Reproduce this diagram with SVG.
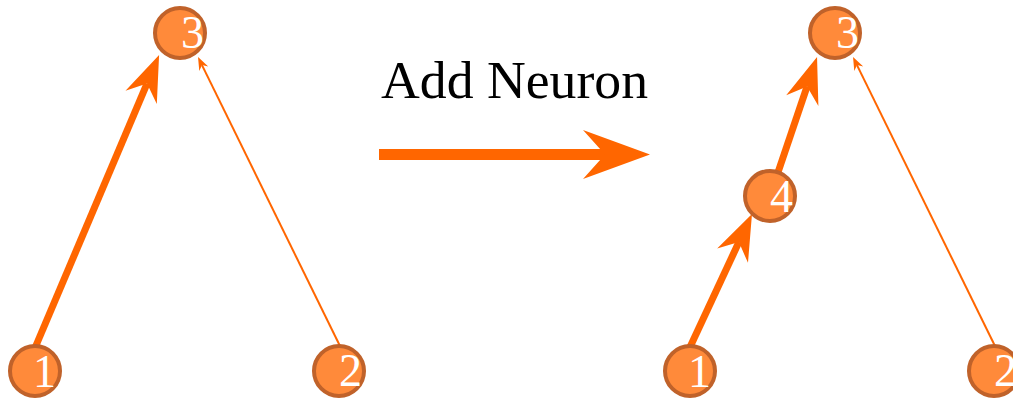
<svg xmlns="http://www.w3.org/2000/svg" width="1013" height="398" viewBox="0 0 1013 398">
<style>
.edge{fill:none;stroke:#ff6600;stroke-linecap:butt}
.thick{stroke-width:7}
.thin{stroke-width:2}
.node circle{fill:#ff8a3a;stroke:#c0622a;stroke-width:4}
.node text{fill:#ffffff;font-family:"Liberation Serif","DejaVu Serif",serif;font-size:46px}
.title{fill:#000000;font-family:"Liberation Serif","DejaVu Serif",serif;font-size:52px}
</style>
<defs>
<marker id="big" markerUnits="userSpaceOnUse" markerWidth="50" markerHeight="36" refX="15" refY="17" orient="auto" overflow="visible">
<path d="M0,0 L46,17 L0,34 L15,17 Z" fill="#ff6600"/>
</marker>
<marker id="small" markerUnits="userSpaceOnUse" markerWidth="14" markerHeight="12" refX="4" refY="5" orient="auto" overflow="visible">
<path d="M0,0 L13,5 L0,10 L4,5 Z" fill="#ff6600"/>
</marker>
</defs>
<g id="connectors">
<line class="edge thick" x1="32" y1="355" x2="147" y2="83.6" marker-end="url(#big)"/>
<line class="edge thin" x1="344.4" y1="355" x2="202" y2="65.1" marker-end="url(#small)"/>
<line class="edge thick" x1="686.8" y1="354" x2="738.9" y2="242.1" marker-end="url(#big)"/>
<line class="edge thick" x1="770" y1="196" x2="807.1" y2="86.4" marker-end="url(#big)"/>
<line class="edge thin" x1="999.4" y1="355" x2="857" y2="65.1" marker-end="url(#small)"/>
</g>
<g id="transition">
<line x1="379" y1="154.5" x2="606" y2="154.5" stroke="#ff6600" stroke-width="11"/>
<path d="M650,154.5 L583,130 L605,154.5 L583,179 Z" fill="#ff6600"/>
<text class="title" x="381" y="98" textLength="267" lengthAdjust="spacingAndGlyphs">Add Neuron</text>
</g>
<g id="left-node-1" class="node"><circle cx="35" cy="371" r="25"/><text x="33" y="387">1</text></g>
<g id="left-node-2" class="node"><circle cx="339" cy="371" r="25"/><text x="339" y="386">2</text></g>
<g id="left-node-3" class="node"><circle cx="180" cy="33" r="25"/><text x="181" y="48">3</text></g>
<g id="right-node-1" class="node"><circle cx="690" cy="371" r="25"/><text x="688" y="387">1</text></g>
<g id="right-node-2" class="node"><circle cx="994" cy="371" r="25"/><text x="994" y="386">2</text></g>
<g id="right-node-3" class="node"><circle cx="835" cy="33" r="25"/><text x="836" y="48">3</text></g>
<g id="right-node-4" class="node"><circle cx="770" cy="196" r="25"/><text x="770" y="212">4</text></g>
</svg>
